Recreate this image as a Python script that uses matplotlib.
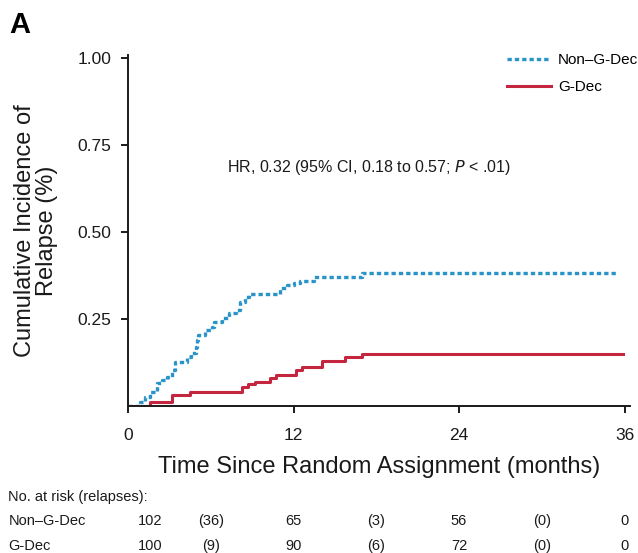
import matplotlib
matplotlib.use("Agg")
import matplotlib.pyplot as plt
import matplotlib.transforms as mtransforms

plt.rcParams['font.family'] = ['Liberation Sans', 'DejaVu Sans']

# cumulative incidence of relapse, step times (months) and values
non_gdec_times = [0.9, 1.2, 1.6, 2.1, 2.5, 2.8, 3.2, 3.4, 4.3, 4.6, 4.9, 5.0, 5.1, 5.6,
                  6.1, 6.2, 6.8, 7.3, 7.8, 8.1, 8.5, 8.8, 11.0, 11.5, 12.0, 12.5, 13.5, 17.0]
non_gdec_cif = [0.010, 0.026, 0.040, 0.066, 0.075, 0.084, 0.104, 0.126, 0.140, 0.152, 0.170,
                0.190, 0.204, 0.218, 0.227, 0.241, 0.253, 0.267, 0.276, 0.299, 0.313, 0.322,
                0.339, 0.348, 0.353, 0.359, 0.371, 0.382]
non_gdec_end = 35.5

gdec_times = [1.6, 3.2, 4.5, 8.3, 8.7, 9.2, 10.3, 10.7, 12.2, 12.6, 14.1, 15.7, 17.0]
gdec_cif = [0.010, 0.030, 0.040, 0.055, 0.063, 0.070, 0.080, 0.090, 0.103, 0.112, 0.130,
            0.140, 0.149]
gdec_end = 35.9

# numbers at risk table
risk_groups = ['Non\u2013G-Dec', 'G-Dec']
risk_at = [[102, 65, 56, 0], [100, 90, 72, 0]]
relapses = [[36, 3, 0], [9, 6, 0]]
risk_months = [1.6, 12, 24, 36]
relapse_months = [6, 18, 30]

blue = '#2a93c8'
red = '#c4263f'
ink = '#1a1a1a'


def step_xy(times, cif, end):
    x = [0] + list(times) + [end]
    y = [0] + list(cif) + [cif[-1]]
    return x, y


fig = plt.figure(figsize=(6.38, 5.53), dpi=100)
ax = fig.add_axes([0.2006, 0.266, 0.787, 0.635])

x, y = step_xy(non_gdec_times, non_gdec_cif, non_gdec_end)
ax.plot(x, y, drawstyle='steps-post', color=blue, lw=2.4, ls=(0, (1.3, 0.9)),
        label='Non\u2013G-Dec')
x, y = step_xy(gdec_times, gdec_cif, gdec_end)
ax.plot(x, y, drawstyle='steps-post', color=red, lw=2.2, label='G-Dec')

ax.set_xlim(0, 36.4)
ax.set_ylim(0, 1.01)
ax.set_xticks([0, 12, 24, 36])
ax.set_yticks([0.25, 0.50, 0.75, 1.00])
ax.set_yticklabels(['0.25', '0.50', '0.75', '1.00'])
for s in ['top', 'right']:
    ax.spines[s].set_visible(False)
for s in ['left', 'bottom']:
    ax.spines[s].set_linewidth(1.4)
    ax.spines[s].set_color(ink)
ax.tick_params(direction='out', length=5, width=1.4, labelsize=12.5, colors=ink)
ax.tick_params(axis='y', pad=7)
ax.tick_params(axis='x', pad=11)

ax.set_xlabel('Time Since Random Assignment (months)', fontsize=17, labelpad=9, color=ink)
ax.set_ylabel('Cumulative Incidence of\nRelapse (%)', fontsize=17, labelpad=14,
              color=ink, linespacing=1.0)

ax.text(0.48, 0.678, 'HR, 0.32 (95% CI, 0.18 to 0.57; $\\it{P}$ < .01)',
        transform=ax.transAxes, ha='center', va='center', fontsize=11.5, color=ink)

ax.legend(loc='upper left', bbox_to_anchor=(0.785, 0.915), bbox_transform=fig.transFigure,
          frameon=False, fontsize=11, handlelength=2.9, handletextpad=0.45,
          labelspacing=0.85, borderaxespad=0)

fig.text(0.015, 0.955, 'A', fontsize=21, fontweight='bold', ha='left', va='center')

# risk table below the axes
trans = mtransforms.blended_transform_factory(ax.transData, fig.transFigure)
fig.text(0.013, 1 - 497 / 553, 'No. at risk (relapses):', fontsize=10.5, va='center',
         color=ink)
row_y = [1 - 521 / 553, 1 - 546 / 553]
for name, counts, rel, yy in zip(risk_groups, risk_at, relapses, row_y):
    fig.text(0.013, yy, name, fontsize=10.5, va='center', color=ink)
    for m, c in zip(risk_months, counts):
        ax.text(m, yy, str(c), transform=trans, ha='center', va='center', fontsize=10.5,
                color=ink)
    for m, r in zip(relapse_months, rel):
        ax.text(m, yy, '(%d)' % r, transform=trans, ha='center', va='center', fontsize=10.5,
                color=ink)

fig.savefig('out.png', dpi=100)
